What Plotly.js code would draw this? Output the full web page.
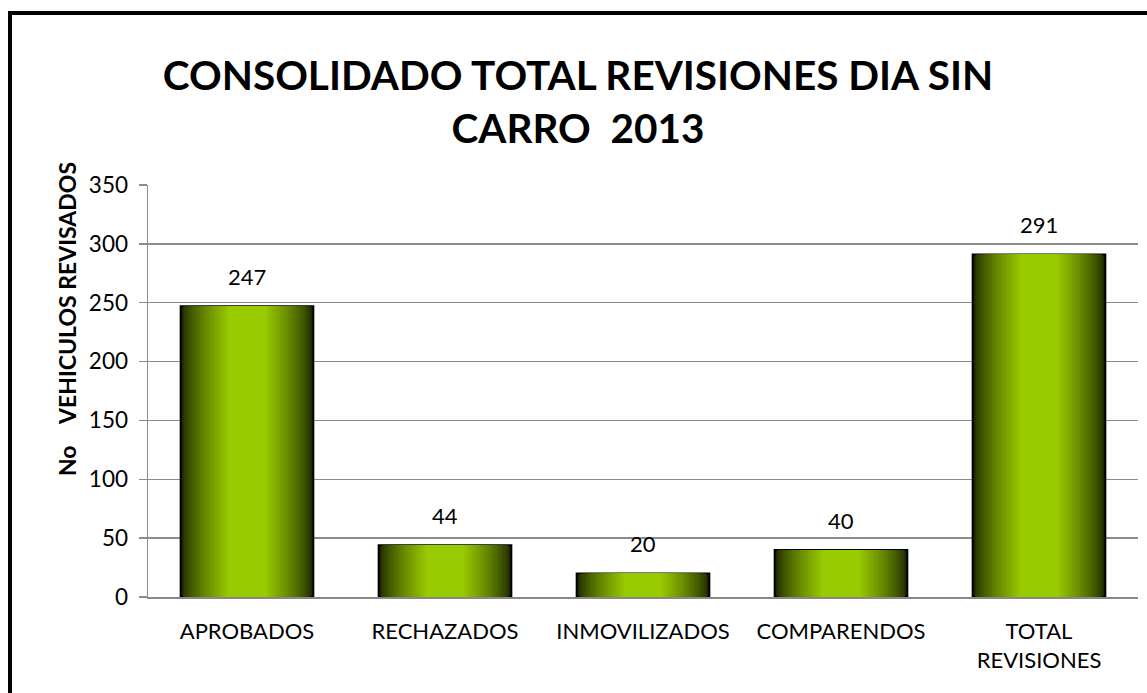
<!DOCTYPE html>
<html>
<head>
<meta charset="utf-8">
<script src="https://cdn.plot.ly/plotly-3.0.1.min.js"></script>
<style>html,body{margin:0;padding:0;background:#fff;}#chart{width:1147px;height:693px;}</style>
</head>
<body>
<div id="chart"></div>
<script>
var categories = ["APROBADOS", "RECHAZADOS", "INMOVILIZADOS", "COMPARENDOS", "TOTAL<br>REVISIONES"];
var values = [247, 44, 20, 40, 291];
var tickValues = [0, 50, 100, 150, 200, 250, 300, 350];
var chartTitle = "CONSOLIDADO TOTAL REVISIONES DIA SIN<br>CARRO&nbsp;&nbsp;2013";
var yTitle = "No&nbsp;&nbsp;&nbsp;&nbsp;VEHICULOS REVISADOS";

var W = 1147, H = 693;
var L = 148, R = 9, T = 185, B = 96;
var pw = W - L - R, ph = H - T - B;
function px(x){ return (x - L) / pw; }
function py(y){ return (H - B - y) / ph; }

var dark = [30, 40, 0], bright = [153, 204, 0];
var N = 18, outer = 0.67;
var traces = [];
for (var i = 0; i < N; i++) {
  var t = i / (N - 1);
  var e = Math.pow(t, 0.75);
  var c = dark.map(function(d, k){ return Math.round(d + (bright[k] - d) * e); });
  var w = outer * (1 - 0.72 * t);
  traces.push({
    type: 'bar',
    x: categories,
    y: values,
    width: w,
    marker: {
      color: 'rgb(' + c.join(',') + ')',
      line: { color: i === 0 ? '#000000' : 'rgba(0,0,0,0)', width: i === 0 ? 2 : 0 }
    },
    hoverinfo: 'skip',
    showlegend: false
  });
}

var annotations = categories.map(function(cat, j){
  return {
    x: cat, y: values[j], xref: 'x', yref: 'y',
    text: String(values[j]), showarrow: false,
    yanchor: 'bottom', yshift: 14,
    font: { family: 'Lato, sans-serif', size: 22, color: '#000' }
  };
});
annotations.push({
  xref: 'paper', yref: 'paper', x: px(67), y: py(319),
  text: '<b>' + yTitle + '</b>', textangle: -90, showarrow: false,
  xanchor: 'center', yanchor: 'middle',
  font: { family: 'Lato, sans-serif', size: 23, color: '#000' }
});

var layout = {
  width: W, height: H,
  margin: { l: L, r: R, t: T, b: B, pad: 0 },
  paper_bgcolor: '#fff', plot_bgcolor: '#fff',
  barmode: 'overlay',
  showlegend: false,
  title: {
    text: '<b>' + chartTitle + '</b>',
    x: 578 / W, xanchor: 'center',
    y: 1 - 90 / H, yanchor: 'middle',
    font: { family: 'Lato, sans-serif', size: 40.5, color: '#000' }
  },
  xaxis: {
    type: 'category',
    showgrid: false,
    showline: true, linecolor: '#888', linewidth: 2,
    ticks: '', ticklen: 0,
    ticklabelstandoff: 14,
    tickfont: { family: 'Lato, sans-serif', size: 22, color: '#000' },
    fixedrange: true
  },
  yaxis: {
    range: [0, 350],
    tickvals: tickValues,
    ticktext: tickValues.map(String),
    showgrid: true, gridcolor: '#8c8c8c', gridwidth: 1.5,
    showline: true, linecolor: '#8c8c8c', linewidth: 1.5,
    ticks: 'outside', ticklen: 8, tickcolor: '#8c8c8c', tickwidth: 1.5,
    ticklabelstandoff: 6,
    tickfont: { family: 'Lato, sans-serif', size: 22.5, color: '#000' },
    zeroline: false,
    fixedrange: true
  },
  annotations: annotations,
  shapes: [{
    type: 'rect', xref: 'paper', yref: 'paper',
    x0: px(10), x1: px(1200), y0: py(760), y1: py(13),
    line: { color: '#000', width: 4 }, fillcolor: 'rgba(0,0,0,0)', layer: 'above'
  }]
};

Plotly.newPlot('chart', traces, layout, { displayModeBar: false, staticPlot: true });
</script>
</body>
</html>
